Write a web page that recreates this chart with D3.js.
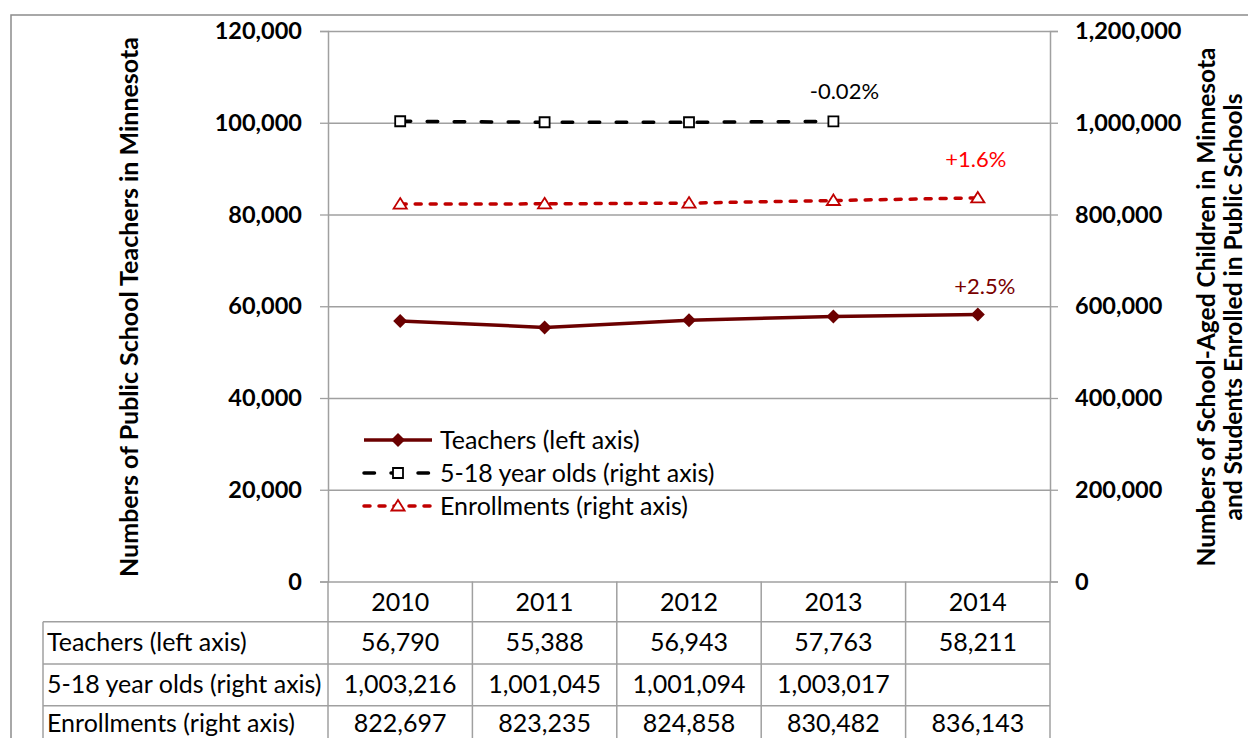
<!DOCTYPE html>
<html>
<head>
<meta charset="utf-8">
<script src="https://cdn.jsdelivr.net/npm/d3@7"></script>
<style>
  body { margin: 0; background: #fff; }
  svg { display: block; font-family: Lato, "Open Sans", sans-serif; }
</style>
</head>
<body>
<div id="chart"></div>
<script>
// Data
const years = ["2010", "2011", "2012", "2013", "2014"];
const teachers = [56790, 55388, 56943, 57763, 58211];
const kids = [1003216, 1001045, 1001094, 1003017, null];
const enrollments = [822697, 823235, 824858, 830482, 836143];
const leftTicks = [0, 20000, 40000, 60000, 80000, 100000, 120000];
const rightTicks = [0, 200000, 400000, 600000, 800000, 1000000, 1200000];
const rowLabels = ["Teachers (left axis)", "5-18 year olds (right axis)", "Enrollments (right axis)"];
const changeLabels = ["+2.5%", "-0.02%", "+1.6%"];

const width = 1248, height = 738;
const grey = "#a0a0a0";
const fmt = d3.format(",");

const svg = d3.select("#chart").append("svg")
  .attr("width", width)
  .attr("height", height);

// outer chart border (cropped on the right and bottom)
svg.append("rect")
  .attr("x", 11).attr("y", 15)
  .attr("width", 1300).attr("height", 800)
  .attr("fill", "none").attr("stroke", "#8c8c8c").attr("stroke-width", 1.5);

const x = d3.scaleBand().domain(years).range([328, 1050]);
const yL = d3.scaleLinear().domain([0, 120000]).range([581.5, 31]);
const yR = d3.scaleLinear().domain([0, 1200000]).range([581.5, 31]);
const cx = d => x(d) + x.bandwidth() / 2;

// gridlines
svg.append("g")
  .attr("transform", "translate(328,0)")
  .call(d3.axisRight(yL).tickValues(leftTicks).tickSize(722).tickFormat(""))
  .call(g => g.select(".domain").remove())
  .call(g => g.selectAll("line").attr("stroke", grey).attr("stroke-width", 1.3));

// left axis
svg.append("g")
  .attr("transform", "translate(328,0)")
  .call(d3.axisLeft(yL).tickValues(leftTicks).tickSize(8).tickPadding(18).tickFormat(fmt))
  .call(g => g.select(".domain").attr("stroke", grey).attr("stroke-width", 1.5))
  .call(g => g.selectAll("line").attr("stroke", grey).attr("stroke-width", 1.3))
  .call(g => g.selectAll("text").attr("font-size", 23.5).attr("font-weight", "bold")
    .attr("font-family", "Lato").attr("fill", "#000"));

// right axis
svg.append("g")
  .attr("transform", "translate(1050,0)")
  .call(d3.axisRight(yR).tickValues(rightTicks).tickSize(8).tickPadding(17).tickFormat(fmt))
  .call(g => g.select(".domain").attr("stroke", grey).attr("stroke-width", 1.5))
  .call(g => g.selectAll("line").attr("stroke", grey).attr("stroke-width", 1.3))
  .call(g => g.selectAll("text").attr("font-size", 23.5).attr("font-weight", "bold")
    .attr("font-family", "Lato").attr("fill", "#000"));

// axis titles
svg.append("text")
  .attr("transform", "translate(138,307) rotate(-90)")
  .attr("text-anchor", "middle")
  .attr("font-size", 25).attr("font-weight", "bold")
  .text("Numbers of Public School Teachers in Minnesota");

svg.append("text")
  .attr("transform", "translate(1215,307) rotate(-90)")
  .attr("text-anchor", "middle")
  .attr("font-size", 24.5).attr("font-weight", "bold")
  .text("Numbers of School-Aged Children in Minnesota");
svg.append("text")
  .attr("transform", "translate(1242,307) rotate(-90)")
  .attr("text-anchor", "middle")
  .attr("font-size", 24.5).attr("font-weight", "bold")
  .text("and Students Enrolled in Public Schools");

// data table
const rowY = [581.5, 621.7, 664, 705.7, 747];
const table = svg.append("g");
x.domain().forEach(d => {
  table.append("line")
    .attr("x1", x(d)).attr("x2", x(d))
    .attr("y1", rowY[0]).attr("y2", height + 10)
    .attr("stroke", grey).attr("stroke-width", 1.5);
});
table.append("line")
  .attr("x1", 1050).attr("x2", 1050).attr("y1", rowY[0]).attr("y2", height + 10)
  .attr("stroke", grey).attr("stroke-width", 1.5);
table.append("line")
  .attr("x1", 43).attr("x2", 43).attr("y1", rowY[1]).attr("y2", height + 10)
  .attr("stroke", grey).attr("stroke-width", 1.5);
rowY.slice(1, 4).forEach(y => {
  table.append("line")
    .attr("x1", 43).attr("x2", 1050).attr("y1", y).attr("y2", y)
    .attr("stroke", grey).attr("stroke-width", 1.5);
});

table.selectAll("text.year")
  .data(years)
  .join("text")
  .attr("class", "year")
  .attr("x", d => cx(d))
  .attr("y", (rowY[0] + rowY[1]) / 2)
  .attr("dy", "0.36em")
  .attr("text-anchor", "middle")
  .attr("font-size", 25)
  .text(d => d);

// last row is cut by the picture edge, keep its text just inside
const rowMid = [642.8, 684.8, 723.5];
[teachers, kids, enrollments].forEach((vals, i) => {
  const ym = rowMid[i];
  table.append("text")
    .attr("x", 47).attr("y", ym).attr("dy", "0.34em")
    .attr("font-size", 25)
    .text(rowLabels[i]);
  table.selectAll("text.v" + i)
    .data(vals)
    .join("text")
    .attr("class", "v" + i)
    .attr("x", (d, j) => cx(years[j]))
    .attr("y", ym).attr("dy", "0.34em")
    .attr("text-anchor", "middle")
    .attr("font-size", 25)
    .text(d => d == null ? "" : fmt(d));
});

// marker shapes
function diamond(r) { return `M0,${-r}L${r},0L0,${r}L${-r},0Z`; }
function square(r) { return `M${-r},${-r}H${r}V${r}H${-r}Z`; }
function triangle(r) { return `M0,${-r}L${r * 1.1},${r * 0.75}H${-r * 1.1}Z`; }

const maroon = "#6b0000", red = "#c00000";

// series lines
const lineL = d3.line().defined(d => d != null).x((d, i) => cx(years[i])).y(d => yL(d));
const lineR = d3.line().defined(d => d != null).x((d, i) => cx(years[i])).y(d => yR(d));

svg.append("path").datum(kids).attr("d", lineR)
  .attr("fill", "none").attr("stroke", "#000").attr("stroke-width", 3.5)
  .attr("stroke-dasharray", "10.5,16.5").attr("stroke-linecap", "round");
svg.append("path").datum(enrollments).attr("d", lineR)
  .attr("fill", "none").attr("stroke", red).attr("stroke-width", 3.5)
  .attr("stroke-dasharray", "6,9").attr("stroke-linecap", "round");
svg.append("path").datum(teachers).attr("d", lineL)
  .attr("fill", "none").attr("stroke", maroon).attr("stroke-width", 3.5);

// markers
svg.selectAll("path.mk")
  .data(kids.map((v, i) => ({ v, i })).filter(d => d.v != null))
  .join("path").attr("class", "mk")
  .attr("transform", d => `translate(${cx(years[d.i])},${yR(d.v)})`)
  .attr("d", square(5)).attr("fill", "#fff").attr("stroke", "#000").attr("stroke-width", 1.8);
svg.selectAll("path.me")
  .data(enrollments)
  .join("path").attr("class", "me")
  .attr("transform", (d, i) => `translate(${cx(years[i])},${yR(d)})`)
  .attr("d", triangle(6)).attr("fill", "#fff").attr("stroke", red).attr("stroke-width", 1.8);
svg.selectAll("path.mt")
  .data(teachers)
  .join("path").attr("class", "mt")
  .attr("transform", (d, i) => `translate(${cx(years[i])},${yL(d)})`)
  .attr("d", diamond(7)).attr("fill", maroon);

// change labels at series ends
svg.append("text").attr("x", cx("2014") + 7).attr("y", yL(teachers[4]) - 20)
  .attr("text-anchor", "middle").attr("font-size", 22).attr("fill", "#7a0000")
  .text(changeLabels[0]);
svg.append("text").attr("x", cx("2013") + 11).attr("y", yR(kids[3]) - 22)
  .attr("text-anchor", "middle").attr("font-size", 22).attr("fill", "#000")
  .text(changeLabels[1]);
svg.append("text").attr("x", cx("2014") - 2).attr("y", yR(enrollments[4]) - 31)
  .attr("text-anchor", "middle").attr("font-size", 22).attr("fill", "#ff0000")
  .text(changeLabels[2]);

// legend
const legend = svg.append("g").attr("transform", "translate(362,440)");
const items = [
  { label: "Teachers (left axis)", stroke: maroon, dash: null, mk: diamond(7), fill: maroon, mstroke: "none" },
  { label: "5-18 year olds (right axis)", stroke: "#000", dash: "10.5,16.5", mk: square(5), fill: "#fff", mstroke: "#000" },
  { label: "Enrollments (right axis)", stroke: red, dash: "6,9", mk: triangle(6), fill: "#fff", mstroke: red }
];
items.forEach((it, i) => {
  const g = legend.append("g").attr("transform", `translate(0,${i * 33})`);
  g.append("line").attr("x1", 2).attr("x2", 70).attr("y1", 0).attr("y2", 0)
    .attr("stroke", it.stroke).attr("stroke-width", 3.5)
    .attr("stroke-dasharray", it.dash).attr("stroke-linecap", it.dash ? "round" : "butt");
  g.append("path").attr("transform", "translate(36,0)").attr("d", it.mk)
    .attr("fill", it.fill).attr("stroke", it.mstroke).attr("stroke-width", 1.8);
  g.append("text").attr("x", 78).attr("y", 0).attr("dy", "0.36em")
    .attr("font-size", 25).text(it.label);
});
</script>
</body>
</html>
